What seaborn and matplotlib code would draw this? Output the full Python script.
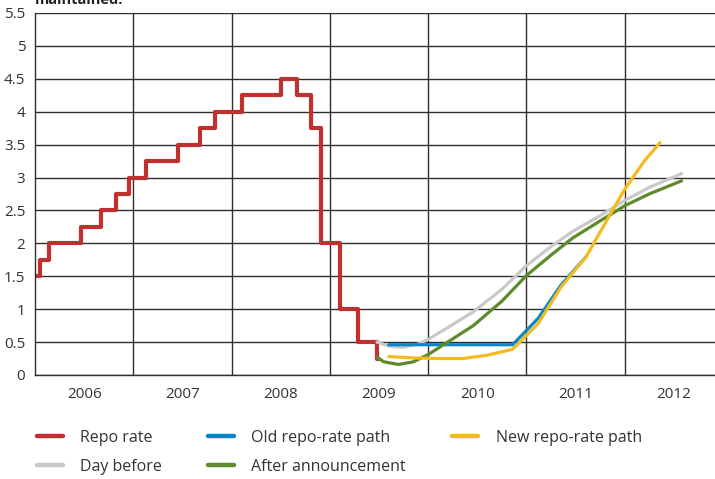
import numpy as np
import pandas as pd
import seaborn as sns
import matplotlib.pyplot as plt
from matplotlib.ticker import FixedLocator, FixedFormatter

# Repo rate, steps (decimal year, per cent)
repo_dates = [2006.00, 2006.05, 2006.14, 2006.47, 2006.67, 2006.82, 2006.96,
              2007.13, 2007.46, 2007.68, 2007.83, 2008.11, 2008.50, 2008.67,
              2008.81, 2008.91, 2009.10, 2009.29, 2009.48, 2009.50]
repo_rate = [1.5, 1.75, 2.0, 2.25, 2.5, 2.75, 3.0,
             3.25, 3.5, 3.75, 4.0, 4.25, 4.5, 4.25,
             3.75, 2.0, 1.0, 0.5, 0.25, 0.25]

# Old repo-rate path
old_dates = [2009.60, 2010.86, 2011.12, 2011.35, 2011.61]
old_path = [0.46, 0.46, 0.86, 1.36, 1.80]

# New repo-rate path
new_dates = [2009.60, 2009.85, 2010.10, 2010.35, 2010.60, 2010.86, 2011.12,
             2011.35, 2011.61, 2011.80, 2012.00, 2012.20, 2012.36]
new_path = [0.28, 0.26, 0.25, 0.25, 0.30, 0.39, 0.78,
            1.33, 1.80, 2.30, 2.82, 3.25, 3.53]

# Market expectations, day before
before_dates = [2009.48, 2009.60, 2009.74, 2009.90, 2010.00, 2010.20, 2010.46,
                2010.75, 2011.00, 2011.25, 2011.47, 2011.75, 2012.00, 2012.25,
                2012.58]
day_before = [0.50, 0.44, 0.42, 0.47, 0.54, 0.72, 0.96,
              1.30, 1.66, 1.95, 2.18, 2.42, 2.65, 2.85,
              3.06]

# Market expectations, after announcement
after_dates = [2009.48, 2009.55, 2009.70, 2009.85, 2010.00, 2010.20, 2010.46,
               2010.75, 2011.00, 2011.25, 2011.47, 2011.75, 2012.00, 2012.25,
               2012.58]
after_ann = [0.27, 0.20, 0.16, 0.20, 0.31, 0.50, 0.75,
             1.12, 1.51, 1.82, 2.08, 2.34, 2.57, 2.75,
             2.95]

years = [2006, 2007, 2008, 2009, 2010, 2011, 2012]

sns.set_theme(style="white")
plt.rcParams['font.family'] = ['Open Sans', 'DejaVu Sans']

fig = plt.figure(figsize=(7.15, 4.79), dpi=100)
ax = fig.add_axes([35/715, 1-375/479, 1-35/715, (375-13)/479])

red = "#c0302e"
blue = "#0a86c8"
yellow = "#f4bb1f"
grey = "#c9c9c9"
green = "#5f8a2b"

sns.lineplot(x=repo_dates, y=repo_rate, ax=ax, color=red, lw=3.0,
             drawstyle="steps-post", label="Repo rate")
sns.lineplot(x=before_dates, y=day_before, ax=ax, color=grey, lw=2.3,
             label="Day before")
sns.lineplot(x=old_dates, y=old_path, ax=ax, color=blue, lw=2.3,
             label="Old repo-rate path")
sns.lineplot(x=after_dates, y=after_ann, ax=ax, color=green, lw=2.3,
             label="After announcement")
sns.lineplot(x=new_dates, y=new_path, ax=ax, color=yellow, lw=2.3,
             label="New repo-rate path")

ax.set_xlim(2006, 2012.92)
ax.set_ylim(0, 5.5)
ax.set_yticks(np.arange(0, 5.51, 0.5))
ax.set_yticklabels(["0", "0.5", "1", "1.5", "2", "2.5", "3", "3.5", "4",
                    "4.5", "5", "5.5"])

ax.xaxis.set_major_locator(FixedLocator([y + 1 for y in years[:-1]]))
ax.xaxis.set_major_formatter(FixedFormatter([]))
ax.xaxis.set_minor_locator(FixedLocator([y + 0.5 for y in years]))
ax.xaxis.set_minor_formatter(FixedFormatter([str(y) for y in years]))
ax.tick_params(axis="x", which="major", length=0)
ax.tick_params(axis="x", which="minor", length=3, width=0.8, color="#333333",
               labelsize=11, labelcolor="#333333", pad=6)
ax.tick_params(axis="y", length=0, labelsize=11, labelcolor="#333333", pad=7)

ax.grid(True, which="major", axis="both", color="#2e2e2e", lw=1)
ax.set_axisbelow(True)
for side in ["top", "right"]:
    ax.spines[side].set_visible(False)
for side in ["left", "bottom"]:
    ax.spines[side].set_color("#2e2e2e")
    ax.spines[side].set_linewidth(1)
ax.set_xlabel("")
ax.set_ylabel("")

# legend in the order of the reference
handles, labels = ax.get_legend_handles_labels()
order = ["Repo rate", "Day before", "Old repo-rate path", "After announcement",
         "New repo-rate path"]
hmap = dict(zip(labels, handles))
ax.get_legend().remove()
leg = fig.legend([hmap[l] for l in order], order, ncol=3, loc="upper left",
                 bbox_to_anchor=(37/715, 1-430/479), frameon=False,
                 fontsize=11.5, handlelength=1.6, handletextpad=1.1,
                 columnspacing=2.9, labelspacing=0.8, borderpad=0,
                 borderaxespad=0)
for line in leg.get_lines():
    line.set_linewidth(3.2)
for t in leg.get_texts():
    t.set_color("#333333")

# title line that is cut off by the top edge in the original
fig.text(35/715, 1-4/479, "maintained.", fontweight="bold", fontsize=10.5,
         va="baseline", color="#222222")

fig.savefig("out.png", dpi=100)
